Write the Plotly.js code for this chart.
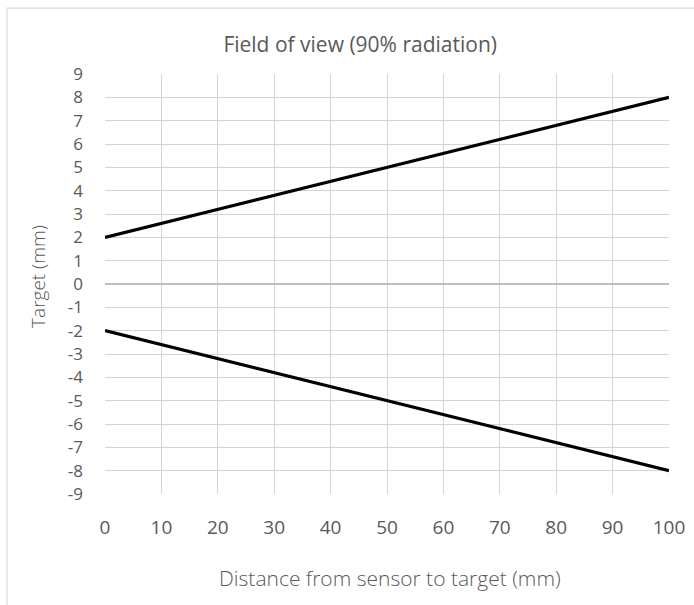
<!DOCTYPE html>
<html>
<head>
<meta charset="utf-8">
<script src="https://cdn.plot.ly/plotly-3.0.1.min.js"></script>
<style>html,body{margin:0;padding:0;background:#fff;}#chart{width:694px;height:605px;}</style>
</head>
<body>
<div id="chart"></div>
<script>
const distance = [0, 100];
const upperEdge = [2, 8];
const lowerEdge = [-2, -8];
const xTicks = [0, 10, 20, 30, 40, 50, 60, 70, 80, 90, 100];
const yTicks = [-9, -8, -7, -6, -5, -4, -3, -2, -1, 0, 1, 2, 3, 4, 5, 6, 7, 8, 9];
const chartTitle = 'Field of view (90% radiation)';
const xTitle = 'Distance from sensor to target (mm)';
const yTitle = 'Target (mm)';

const FONT = '"Open Sans", "DejaVu Sans", sans-serif';
const GREY = '#595959';

const traces = [
  {x: distance, y: upperEdge, mode: 'lines', line: {color: '#000000', width: 3.2}, showlegend: false, hoverinfo: 'skip'},
  {x: distance, y: lowerEdge, mode: 'lines', line: {color: '#000000', width: 3.2}, showlegend: false, hoverinfo: 'skip'}
];

const layout = {
  width: 694, height: 605,
  margin: {l: 105, r: 25, t: 74, b: 111, pad: 0},
  paper_bgcolor: '#ffffff', plot_bgcolor: '#ffffff',
  font: {family: FONT, color: GREY, size: 18},
  title: {text: chartTitle, x: 0.519, xref: 'container', xanchor: 'center', y: 0.926, yref: 'container', yanchor: 'middle',
          font: {family: FONT, size: 21, color: GREY}},
  xaxis: {
    range: [0, 100], tickvals: xTicks, ticktext: xTicks.map(String),
    showgrid: true, gridcolor: '#d4d4d4', gridwidth: 1,
    zeroline: false, showline: false, ticks: '', ticklabelstandoff: 20,
    tickfont: {family: FONT, size: 19, color: GREY}, fixedrange: true
  },
  yaxis: {
    range: [-9, 9], tickvals: yTicks, ticktext: yTicks.map(String),
    showgrid: true, gridcolor: '#d4d4d4', gridwidth: 1,
    zeroline: true, zerolinecolor: '#bfbfbf', zerolinewidth: 1.5,
    showline: false, ticks: '', ticklabelstandoff: 21,
    tickfont: {family: FONT, size: 17, color: GREY}, fixedrange: true
  },
  annotations: [
    {text: xTitle, xref: 'paper', yref: 'paper', x: 0.505, y: -0.2, xanchor: 'center', yanchor: 'middle', showarrow: false,
     font: {family: FONT, size: 21, color: GREY, weight: 300}},
    {text: yTitle, xref: 'paper', yref: 'paper', x: -0.119, y: 0.519, xanchor: 'center', yanchor: 'middle', showarrow: false, textangle: -90,
     font: {family: FONT, size: 19, color: GREY, weight: 300}}
  ],
  shapes: [
    {type: 'rect', xref: 'paper', yref: 'paper', x0: -0.1738, x1: 1.3, y0: -0.5, y1: 1.157,
     line: {color: '#d9d9d9', width: 1.2}, fillcolor: 'rgba(0,0,0,0)', layer: 'below'}
  ]
};

Plotly.newPlot('chart', traces, layout, {staticPlot: true, displayModeBar: false});
</script>
</body>
</html>
